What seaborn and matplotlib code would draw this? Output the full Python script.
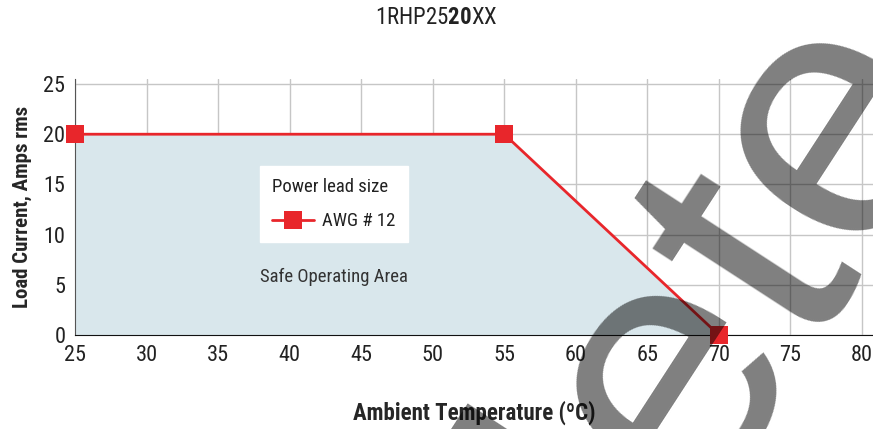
import numpy as np
import matplotlib
matplotlib.use("Agg")
import matplotlib.pyplot as plt
import seaborn as sns

# data
temp = [25, 55, 70]
current = [20, 20, 0]
series_label = "AWG # 12"
legend_title = "Power lead size"
x_ticks = [25, 30, 35, 40, 45, 50, 55, 60, 65, 70, 75, 80]
y_ticks = [0, 5, 10, 15, 20, 25]

sns.set_style("white")
cond = ["Roboto Condensed", "DejaVu Sans"]
plt.rcParams["font.family"] = cond
plt.rcParams["mathtext.fontset"] = "custom"
plt.rcParams["mathtext.rm"] = "Roboto Condensed"
plt.rcParams["mathtext.bf"] = "Roboto Condensed:bold"

red = "#e8262b"
fill = "#d9e7ec"

fig = plt.figure(figsize=(8.73, 4.29), dpi=100)
ax = fig.add_axes([75 / 873, 1 - 335 / 429, 798 / 873, 256 / 429])

ax.fill_between(temp, current, 0, color=fill, lw=0, zorder=1)
sns.lineplot(x=temp, y=current, ax=ax, color=red, lw=2, marker="s", markersize=13,
             markeredgewidth=0, label=series_label, zorder=5, clip_on=False)

ax.set_xlim(25, 80.77)
ax.set_ylim(0, 25.5)
ax.set_xticks(x_ticks)
ax.set_yticks(y_ticks)
ax.grid(True, color="#c6c6c6", lw=1)
ax.set_axisbelow(True)
for s in ["top", "right"]:
    ax.spines[s].set_visible(False)
ax.spines["left"].set_color("#555555")
ax.spines["bottom"].set_color("#111111")
ax.tick_params(axis="both", labelsize=16, length=5, width=1, color="#777777",
               labelcolor="#222222", pad=2)

ax.set_xlabel("Ambient Temperature (ºC)", fontsize=16.5, fontweight="bold", labelpad=25)
ax.set_ylabel("Load Current, Amps rms", fontsize=15, fontweight="bold", labelpad=8)

ax.text(43.1, 5.8, "Safe Operating Area", fontsize=13.5, color="#333333",
        ha="center", va="center", zorder=3)

leg = ax.legend(title=legend_title, loc="upper left", bbox_to_anchor=(0.232, 0.66),
                borderaxespad=0, frameon=True, fancybox=False, fontsize=13.5,
                title_fontsize=13.5, handlelength=2.2, handletextpad=0.45,
                borderpad=0.65, labelspacing=0.85)
leg.get_frame().set_facecolor("white")
leg.get_frame().set_edgecolor("white")
leg.get_frame().set_alpha(1)
leg._legend_box.align = "left"
leg.get_title().set_color("#222222")
for t in leg.get_texts():
    t.set_color("#222222")

fig.text(0.5, 1 - 17 / 429, r"1RHP25$\mathbf{20}$XX", fontsize=16.5, ha="center",
         va="center", color="#222222")

# watermark
fig.text(967 / 873, 1 - 89 / 429, "Obsolete", fontsize=260, rotation=57,
         rotation_mode="anchor", ha="right", va="baseline", color="black", alpha=0.5,
         family=["Liberation Sans", "DejaVu Sans"], zorder=20)

fig.savefig("out.png", dpi=100)
